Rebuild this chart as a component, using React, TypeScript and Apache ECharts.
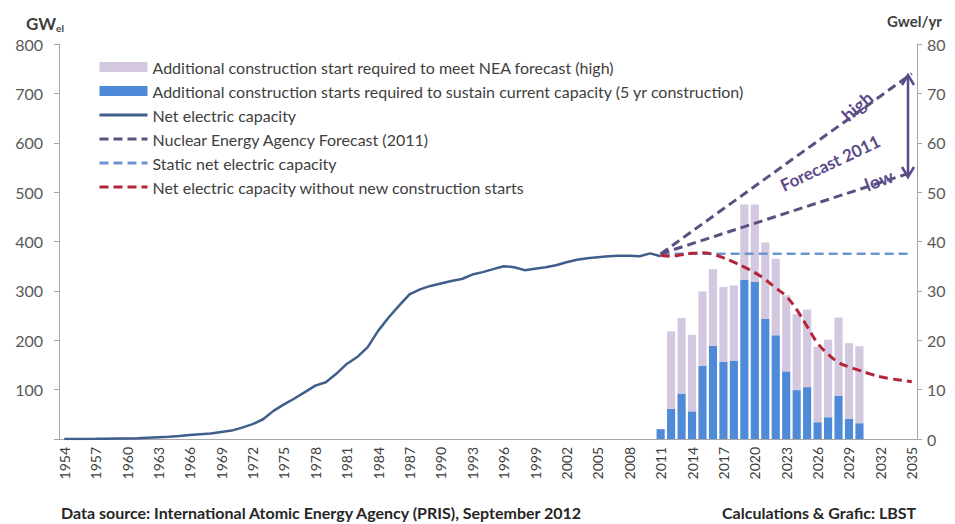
import React, { useEffect, useRef } from "react";
import * as echarts from "echarts";

const years: string[] = [];
for (let y = 1954; y <= 2035; y++) years.push(String(y));

// Net electric capacity 1954..2011 (GWel)
const netCapacity = [
  0, 0, 0.1, 0.3, 0.6, 1, 1.2, 1.5, 2.5, 3.5,
  4.5, 6, 8, 9.5, 11, 14, 17, 23, 30, 40,
  57, 70, 82, 95, 108, 115, 132, 152, 166, 186,
  219, 246, 270, 293, 303, 310, 315, 320, 324, 333,
  338, 344, 350, 348, 342, 345, 348, 352, 358, 363,
  366, 368, 370, 371, 371, 370, 376, 370,
];

// Construction starts 2011..2030 (GWel/yr)
const barYears = [
  2011, 2012, 2013, 2014, 2015, 2016, 2017, 2018, 2019, 2020,
  2021, 2022, 2023, 2024, 2025, 2026, 2027, 2028, 2029, 2030,
];
const sustainStarts = [
  2.0, 6.1, 9.2, 5.6, 14.8, 18.9, 15.6, 15.8, 32.2, 31.8,
  24.3, 21.0, 13.7, 9.9, 10.5, 3.4, 4.4, 8.8, 4.1, 3.2,
];
const neaHighStarts = [
  0, 15.7, 15.3, 15.5, 15.1, 15.5, 15.2, 15.3, 15.3, 15.7,
  15.5, 15.5, 15.4, 15.4, 15.7, 15.3, 15.7, 15.8, 15.3, 15.6,
];

// Forecast endpoints (2011 -> 2035)
const forecastYears = [2011, 2035];
const neaHigh = [375, 740];
const neaLow = [375, 540];
const staticCapacity = [375, 375];

// Net capacity without new construction starts 2011..2035
const declineYears = [
  2011, 2012, 2013, 2014, 2015, 2016, 2017, 2018, 2019, 2020,
  2021, 2022, 2023, 2024, 2025, 2026, 2027, 2028, 2029, 2030,
  2031, 2032, 2033, 2034, 2035,
];
const declineCapacity = [
  372, 370, 373, 376, 377, 374, 367, 358, 348, 337,
  323, 306, 289, 262, 228, 194, 172, 155, 146, 139,
  132, 126, 122, 119, 116,
];

const leftTicks = [0, 800, 100];
const rightTicks = [0, 80, 10];

function fill(ys: number[], vals: number[]): (number | null)[] {
  const out: (number | null)[] = years.map(() => null);
  ys.forEach((y, i) => {
    out[y - 1954] = vals[i];
  });
  return out;
}

const FONT = "Lato";
const TXT = "#404040";
const PURPLE = "#5C4B8C";

export default function App() {
  const ref = useRef<HTMLDivElement>(null);
  useEffect(() => {
    if (!ref.current) return;
    const chart = echarts.init(ref.current, undefined, { renderer: "svg" });
    const netArr = years.map((_, i) => (i < netCapacity.length ? netCapacity[i] : null));
    const dashed = [9, 5];
    const hideSym = { itemStyle: { opacity: 0 } };
    chart.setOption({
      animation: false,
      textStyle: { fontFamily: FONT },
      grid: { left: 59, right: 38, top: 44, bottom: 85 },
      legend: {
        orient: "vertical",
        left: 93,
        top: 54,
        itemWidth: 48,
        itemHeight: 10,
        itemGap: 8,
        lineStyle: { width: 3 },
        textStyle: { fontFamily: FONT, fontSize: 16, color: TXT, lineHeight: 16 },
        data: [
          { name: "Additional construction start required to meet NEA forecast (high)", icon: "rect" },
          { name: "Additional construction starts required to sustain current capacity (5 yr construction)", icon: "rect" },
          { name: "Net electric capacity", ...hideSym },
          { name: "Nuclear Energy Agency Forecast (2011)", ...hideSym },
          { name: "Static net electric capacity", ...hideSym },
          { name: "Net electric capacity without new construction starts", ...hideSym },
        ],
      },
      xAxis: {
        type: "category",
        data: years,
        boundaryGap: true,
        axisLine: { lineStyle: { color: "#A6A6A6" } },
        axisTick: { interval: 0, length: 5, lineStyle: { color: "#A6A6A6" } },
        axisLabel: { interval: 2, rotate: 90, fontSize: 14, color: TXT, margin: 8, fontFamily: FONT },
      },
      yAxis: [
        {
          type: "value",
          min: leftTicks[0],
          max: leftTicks[1],
          interval: leftTicks[2],
          splitLine: { show: false },
          axisLine: { show: true, lineStyle: { color: "#A6A6A6" } },
          axisTick: { show: true, length: 5, lineStyle: { color: "#A6A6A6" } },
          axisLabel: {
            fontSize: 16,
            color: "#595959",
            margin: 16,
            fontFamily: FONT,
            formatter: (v: number) => (v === 0 ? "" : String(v)),
          },
        },
        {
          type: "value",
          min: rightTicks[0],
          max: rightTicks[1],
          interval: rightTicks[2],
          splitLine: { show: false },
          axisLine: { show: true, lineStyle: { color: "#A6A6A6" } },
          axisTick: { show: true, length: 5, lineStyle: { color: "#A6A6A6" } },
          axisLabel: { fontSize: 16, color: "#595959", margin: 10, fontFamily: FONT },
        },
      ],
      series: [
        {
          name: "Additional construction starts required to sustain current capacity (5 yr construction)",
          type: "bar",
          yAxisIndex: 1,
          stack: "starts",
          barWidth: "78%",
          itemStyle: { color: "#4F8AD8" },
          data: fill(barYears, sustainStarts),
          z: 1,
        },
        {
          name: "Additional construction start required to meet NEA forecast (high)",
          type: "bar",
          yAxisIndex: 1,
          stack: "starts",
          barWidth: "78%",
          itemStyle: { color: "#D3C8DF" },
          data: fill(barYears, neaHighStarts),
          z: 1,
        },
        {
          name: "Net electric capacity",
          type: "line",
          symbol: "none",
          data: netArr,
          lineStyle: { color: "#3F5E8C", width: 2.5 },
          itemStyle: { color: "#3F5E8C" },
          z: 3,
        },
        {
          name: "Static net electric capacity",
          type: "line",
          symbol: "none",
          connectNulls: true,
          data: fill(forecastYears, staticCapacity),
          lineStyle: { color: "#6C96D0", width: 2.5, type: dashed },
          itemStyle: { color: "#6C96D0" },
          z: 3,
        },
        {
          name: "Nuclear Energy Agency Forecast (2011)",
          type: "line",
          symbol: "none",
          connectNulls: true,
          data: fill(forecastYears, neaHigh),
          lineStyle: { color: "#5A5180", width: 3, type: dashed },
          itemStyle: { color: "#5A5180" },
          z: 4,
        },
        {
          name: "Nuclear Energy Agency Forecast (2011)",
          type: "line",
          symbol: "none",
          connectNulls: true,
          data: fill(forecastYears, neaLow),
          lineStyle: { color: "#5A5180", width: 3, type: dashed },
          itemStyle: { color: "#5A5180" },
          z: 4,
        },
        {
          name: "Net electric capacity without new construction starts",
          type: "line",
          symbol: "none",
          smooth: 0.4,
          data: fill(declineYears, declineCapacity),
          lineStyle: { color: "#B3263A", width: 3, type: dashed },
          itemStyle: { color: "#B3263A" },
          z: 5,
        },
      ],
      graphic: [
        {
          type: "text",
          left: 26,
          top: 15,
          style: {
            text: "{a|GW}{b|el}",
            rich: {
              a: { fontFamily: FONT, fontSize: 17, fontWeight: "bold", fill: TXT, color: TXT },
              b: { fontFamily: FONT, fontSize: 10, fontWeight: "bold", fill: TXT, color: TXT, padding: [9, 0, 0, 0] },
            },
          },
        },
        {
          type: "text",
          left: 887,
          top: 13,
          style: {
            text: "Gwel/yr",
            font: `bold 15px ${FONT}`,
            fill: TXT,
          },
        },
        {
          type: "text",
          left: 61,
          top: 504,
          style: {
            text: "Data source: International Atomic Energy Agency (PRIS), September 2012",
            font: `bold 16px ${FONT}`,
            fill: "#262626",
          },
        },
        {
          type: "text",
          left: 722,
          top: 504,
          style: {
            text: "Calculations & Grafic: LBST",
            font: `bold 16px ${FONT}`,
            fill: "#262626",
          },
        },
        {
          type: "text",
          x: 857,
          y: 106,
          rotation: 0.72,
          style: { text: "high", font: `bold 18px ${FONT}`, fill: PURPLE, align: "center", verticalAlign: "middle" },
        },
        {
          type: "text",
          x: 830,
          y: 163,
          rotation: 0.44,
          style: { text: "Forecast 2011", font: `bold 17px ${FONT}`, fill: PURPLE, align: "center", verticalAlign: "middle" },
        },
        {
          type: "text",
          x: 879,
          y: 180,
          rotation: 0.36,
          style: { text: "low", font: `bold 18px ${FONT}`, fill: PURPLE, align: "center", verticalAlign: "middle" },
        },
        {
          type: "line",
          shape: { x1: 908, y1: 76, x2: 908, y2: 176 },
          style: { stroke: PURPLE, lineWidth: 2.5 },
        },
        {
          type: "polyline",
          shape: { points: [[902, 85], [908, 75], [914, 85]] },
          style: { stroke: PURPLE, lineWidth: 2.5, fill: null },
        },
        {
          type: "polyline",
          shape: { points: [[902, 167], [908, 177], [914, 167]] },
          style: { stroke: PURPLE, lineWidth: 2.5, fill: null },
        },
      ],
    });
    return () => chart.dispose();
  }, []);
  return <div ref={ref} style={{ position: "absolute", left: 0, top: 0, width: 955, height: 524 }} />;
}
